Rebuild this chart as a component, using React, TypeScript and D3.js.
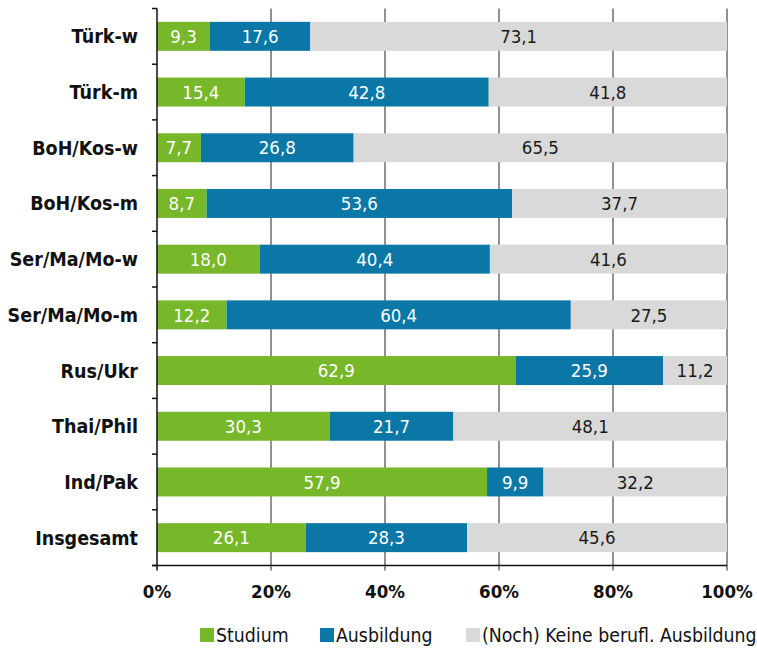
import React from "react";
import * as d3 from "d3";

const categories = ["Türk-w", "Türk-m", "BoH/Kos-w", "BoH/Kos-m", "Ser/Ma/Mo-w", "Ser/Ma/Mo-m", "Rus/Ukr", "Thai/Phil", "Ind/Pak", "Insgesamt"];
const studium = [9.3, 15.4, 7.7, 8.7, 18.0, 12.2, 62.9, 30.3, 57.9, 26.1];
const ausbildung = [17.6, 42.8, 26.8, 53.6, 40.4, 60.4, 25.9, 21.7, 9.9, 28.3];
const keine = [73.1, 41.8, 65.5, 37.7, 41.6, 27.5, 11.2, 48.1, 32.2, 45.6];
const seriesNames = ["Studium", "Ausbildung", "(Noch) Keine berufl. Ausbildung"];
const xTicks = [0, 20, 40, 60, 80, 100];

const colors = ["#76b82a", "#0a77a6", "#d9d9d9"];
const textColors = ["#ffffff", "#ffffff", "#1a1a1a"];
const FONT = "'DejaVu Sans Condensed', 'Liberation Sans Narrow', 'Open Sans', sans-serif";

export default function App() {
  const W = 757, H = 648;
  const x = d3.scaleLinear().domain([0, 100]).range([157, 727]);
  const y = d3.scaleBand().domain(categories).range([8.5, 565.5]).paddingInner(0.48).paddingOuter(0.24);
  const rows = categories.map((c, i) => ({ cat: c, vals: [studium[i], ausbildung[i], keine[i]] }));
  const fmt = (v: number) => v.toFixed(1).replace(".", ",");
  const boundaries = d3.range(categories.length + 1).map((i) => 8.5 + i * y.step());
  const axisY = 565.5;

  return (
    <svg width={W} height={H} style={{ display: "block", position: "absolute", left: 0, top: 0 }} fontFamily={FONT}>
      <rect width={W} height={H} fill="#fff" />
      {xTicks.slice(1).map((t) => (
        <line key={t} x1={x(t)} x2={x(t)} y1={8.5} y2={axisY + 5} stroke="#222" strokeWidth={1} />
      ))}
      {rows.map((r) => {
        let acc = 0;
        return (
          <g key={r.cat}>
            {r.vals.map((v, k) => {
              const x0 = x(acc);
              acc += v;
              const x1 = k === 2 ? x(100) : x(acc);
              return (
                <g key={k}>
                  <rect x={x0} y={y(r.cat)!} width={x1 - x0} height={y.bandwidth()} fill={colors[k]} />
                  <text x={(x0 + x1) / 2} y={y(r.cat)! + y.bandwidth() / 2} dy="0.36em" textAnchor="middle" fontSize={18.5} fill={textColors[k]}>
                    {fmt(v)}
                  </text>
                </g>
              );
            })}
            <text x={138} y={y(r.cat)! + y.bandwidth() / 2} dy="0.36em" textAnchor="end" fontSize={19.5} fontWeight="bold" fill="#111">
              {r.cat}
            </text>
          </g>
        );
      })}
      <line x1={157} x2={157} y1={8.5} y2={axisY + 5} stroke="#111" strokeWidth={1.5} />
      {boundaries.map((b, i) => (
        <line key={i} x1={152} x2={157} y1={b} y2={b} stroke="#111" strokeWidth={1.5} />
      ))}
      <line x1={152} x2={727} y1={axisY} y2={axisY} stroke="#111" strokeWidth={1.5} />
      {xTicks.map((t) => (
        <text key={t} x={x(t)} y={591} dy="0.36em" textAnchor="middle" fontSize={18.5} fontWeight="bold" fill="#111">
          {t}%
        </text>
      ))}
      {[
        { sx: 200, tx: 216 },
        { sx: 320, tx: 336 },
        { sx: 466, tx: 482 },
      ].map((l, k) => (
        <g key={k}>
          <rect x={l.sx} y={628} width={14} height={14} fill={colors[k]} />
          <text x={l.tx} y={635} dy="0.36em" fontSize={19.3} fill="#111">
            {seriesNames[k]}
          </text>
        </g>
      ))}
    </svg>
  );
}
